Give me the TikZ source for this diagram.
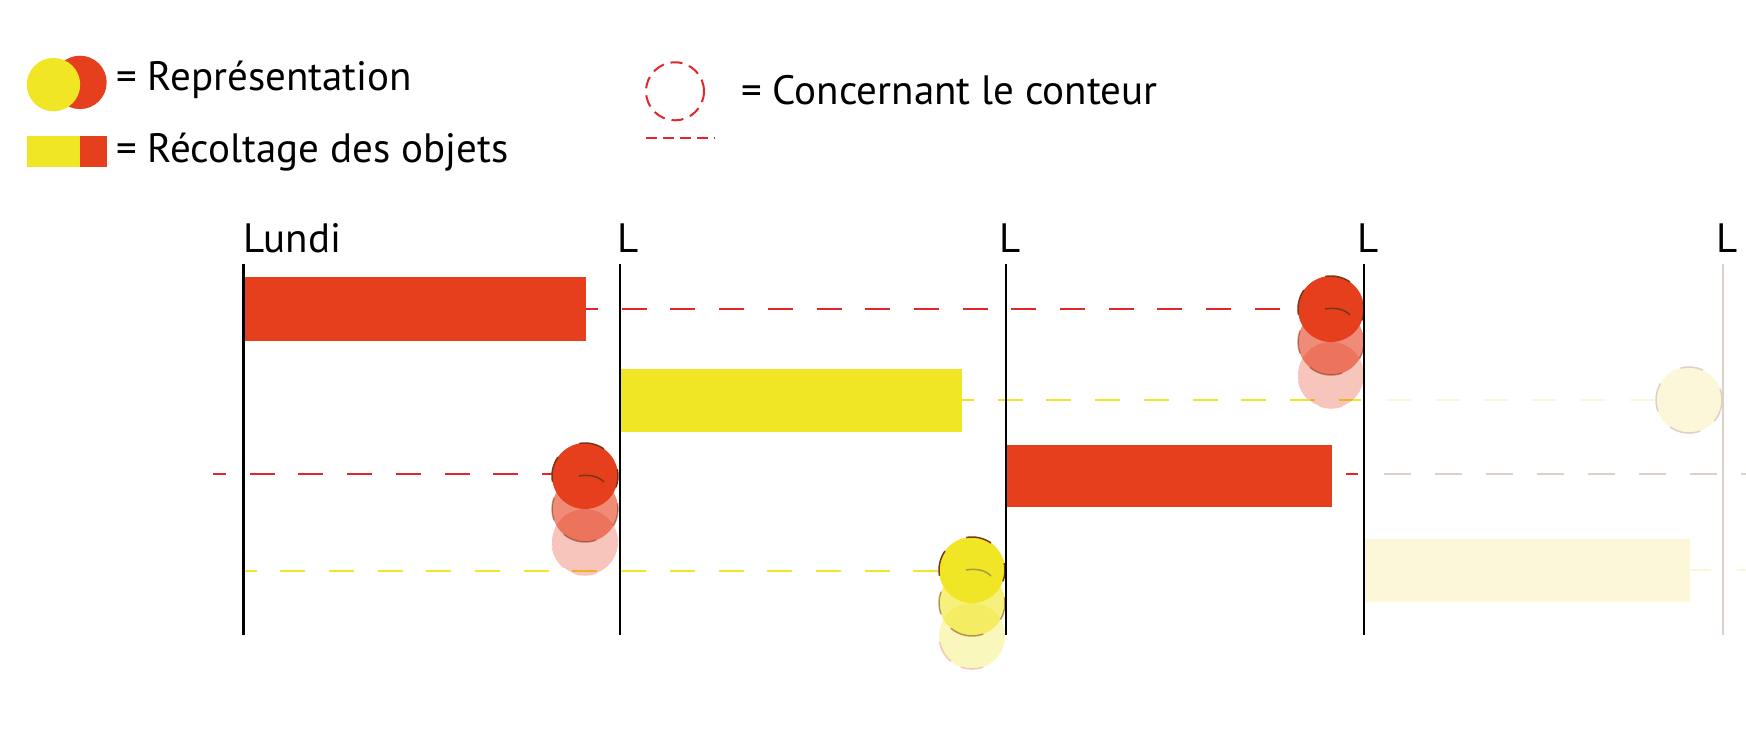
\documentclass[tikz,border=0pt]{standalone}
\usepackage{fontspec}
\setmainfont{PT Sans}
\definecolor{rouge}{HTML}{E63F1E}
\definecolor{jaune}{HTML}{F0E626}
\definecolor{pale}{HTML}{FBF7D8}
\definecolor{tanline}{HTML}{DDD0C8}
\definecolor{dashred}{HTML}{E3262A}
\definecolor{brun}{HTML}{7A3512}
\definecolor{olive}{HTML}{A89A40}
\newcommand\arcpart[6]{\draw[#1] ([shift={(#5:#4)}]#2,#3) arc[start angle=#5,end angle=#6,radius=#4];}
\newcommand\markin[3]{\draw[#1] ({#2-6},{#3}) .. controls ({#2+6},{#3-2}) and ({#2+14},{#3+1}) .. ({#2+19},{#3+6});}
% stack: cx, cy(top), fill colour, outline colour, inner mark colour, third outline colour
\newcommand\circstack[6]{%
  \fill[#3,opacity=0.3] (#1,{#2+66}) circle (33pt);
  \arcpart{#6,line width=1.5pt}{#1}{#2+66}{33pt}{190}{230}
  \arcpart{#6,line width=1.5pt}{#1}{#2+66}{33pt}{250}{290}
  \fill[#3,opacity=0.6] (#1,{#2+33}) circle (33pt);
  \arcpart{#4,opacity=0.5,line width=1.5pt}{#1}{#2+33}{33pt}{160}{200}
  \arcpart{#4,opacity=0.5,line width=1.5pt}{#1}{#2+33}{33pt}{230}{290}
  \arcpart{#4,opacity=0.5,line width=1.5pt}{#1}{#2+33}{33pt}{-30}{10}
  \fill[#3] (#1,#2) circle (33pt);
  \arcpart{#4,line width=1.5pt}{#1}{#2}{33pt}{55}{100}
  \arcpart{#4,line width=1.5pt}{#1}{#2}{33pt}{145}{190}
  \arcpart{#4,line width=1.5pt}{#1}{#2}{33pt}{-20}{12}
  \markin{#5,line width=1.5pt}{#1}{#2}
}
\begin{document}
\begin{tikzpicture}[x=1pt,y=-1pt,
  lbl/.style={font=\fontsize{41}{41}\selectfont, inner sep=0pt, anchor=base west},
  day/.style={line width=2.2pt, black},
  rdash/.style={dashred, line width=2pt, dash pattern=on 25pt off 23.7pt},
  ydash/.style={jaune, line width=2pt, dash pattern=on 25pt off 23.7pt},
  pdash/.style={pale, line width=2pt, dash pattern=on 25pt off 23.7pt},
  tdash/.style={tanline, line width=2pt, dash pattern=on 27pt off 24pt},
]
\useasboundingbox (0,0) rectangle (1746,730);
\fill[white] (0,0) rectangle (1746,730);

% legend
\fill[rouge] (80,82.4) circle (26.7pt);
\fill[jaune] (53.5,84.6) circle (26.7pt);
\fill[jaune] (26.7,136) rectangle (80,167);
\fill[rouge] (80,136) rectangle (107,167);
\node[lbl] (rep) at (116,91) {= Représentation};
\node[lbl] (rec) at (116,163) {= Récoltage des objets};
\draw[dashred, line width=2pt, dash pattern=on 12pt off 7pt] (675,91.3) circle (29pt);
\draw[dashred, line width=2pt, dash pattern=on 11pt off 6pt] (646,138) -- (715,138);
\node[lbl] (con) at (741,105) {= Concernant le conteur};

% bars
\fill[rouge] (244,277) rectangle (586,341);
\fill[jaune] (620,369) rectangle (962,432);
\fill[rouge] (1006,445) rectangle (1332,507);
\fill[pale] (1365,539) rectangle (1690,602);

% dashed lines
\draw[rdash, dash phase=13pt] (586,309) -- (1298,309);
\draw[rdash, dash phase=12pt] (213,474) -- (552,474);
\draw[dashred, line width=2pt] (1346,474) -- (1358,474);
\draw[tdash] (1384,474) -- (1746,474);
\draw[ydash, dash phase=13pt] (962,400) -- (1361,400);
\draw[pdash] (1386,400) -- (1656,400);
\draw[ydash, dash phase=12.5pt] (244,571) -- (940,571);
\draw[pale, line width=2pt] (1690,570) -- (1711,570);
\draw[pale, line width=2pt] (1737,570) -- (1746,570);

% circle stacks
\circstack{585}{476}{rouge}{brun}{brun}{rouge!30}
\circstack{972}{570}{jaune}{brun}{olive}{rouge!30}
\circstack{1331}{309}{rouge}{brun}{brun}{rouge!30}
\fill[pale] (1689,400) circle (33pt);
\arcpart{tanline,line width=1.5pt}{1689}{400}{33pt}{65}{105}
\arcpart{tanline,line width=1.5pt}{1689}{400}{33pt}{150}{200}
\arcpart{tanline,line width=1.5pt}{1689}{400}{33pt}{235}{290}
\arcpart{tanline,line width=1.5pt}{1689}{400}{33pt}{-40}{20}

% day lines
\draw[day] (243.5,264) -- (243.5,635);
\draw[day] (620,264) -- (620,635);
\draw[day] (1006,264) -- (1006,635);
\draw[day] (1364,264) -- (1364,635);
\draw[tanline, line width=2.2pt] (1723,264) -- (1723,635);

% day labels
\node[lbl] (lun) at (243,252) {Lundi};
\node[lbl] (l2) at (617,252) {L};
\node[lbl] (l3) at (999,252) {L};
\node[lbl] (l4) at (1357,252) {L};
\node[lbl] (l5) at (1716,252) {L};
\end{tikzpicture}
\end{document}
